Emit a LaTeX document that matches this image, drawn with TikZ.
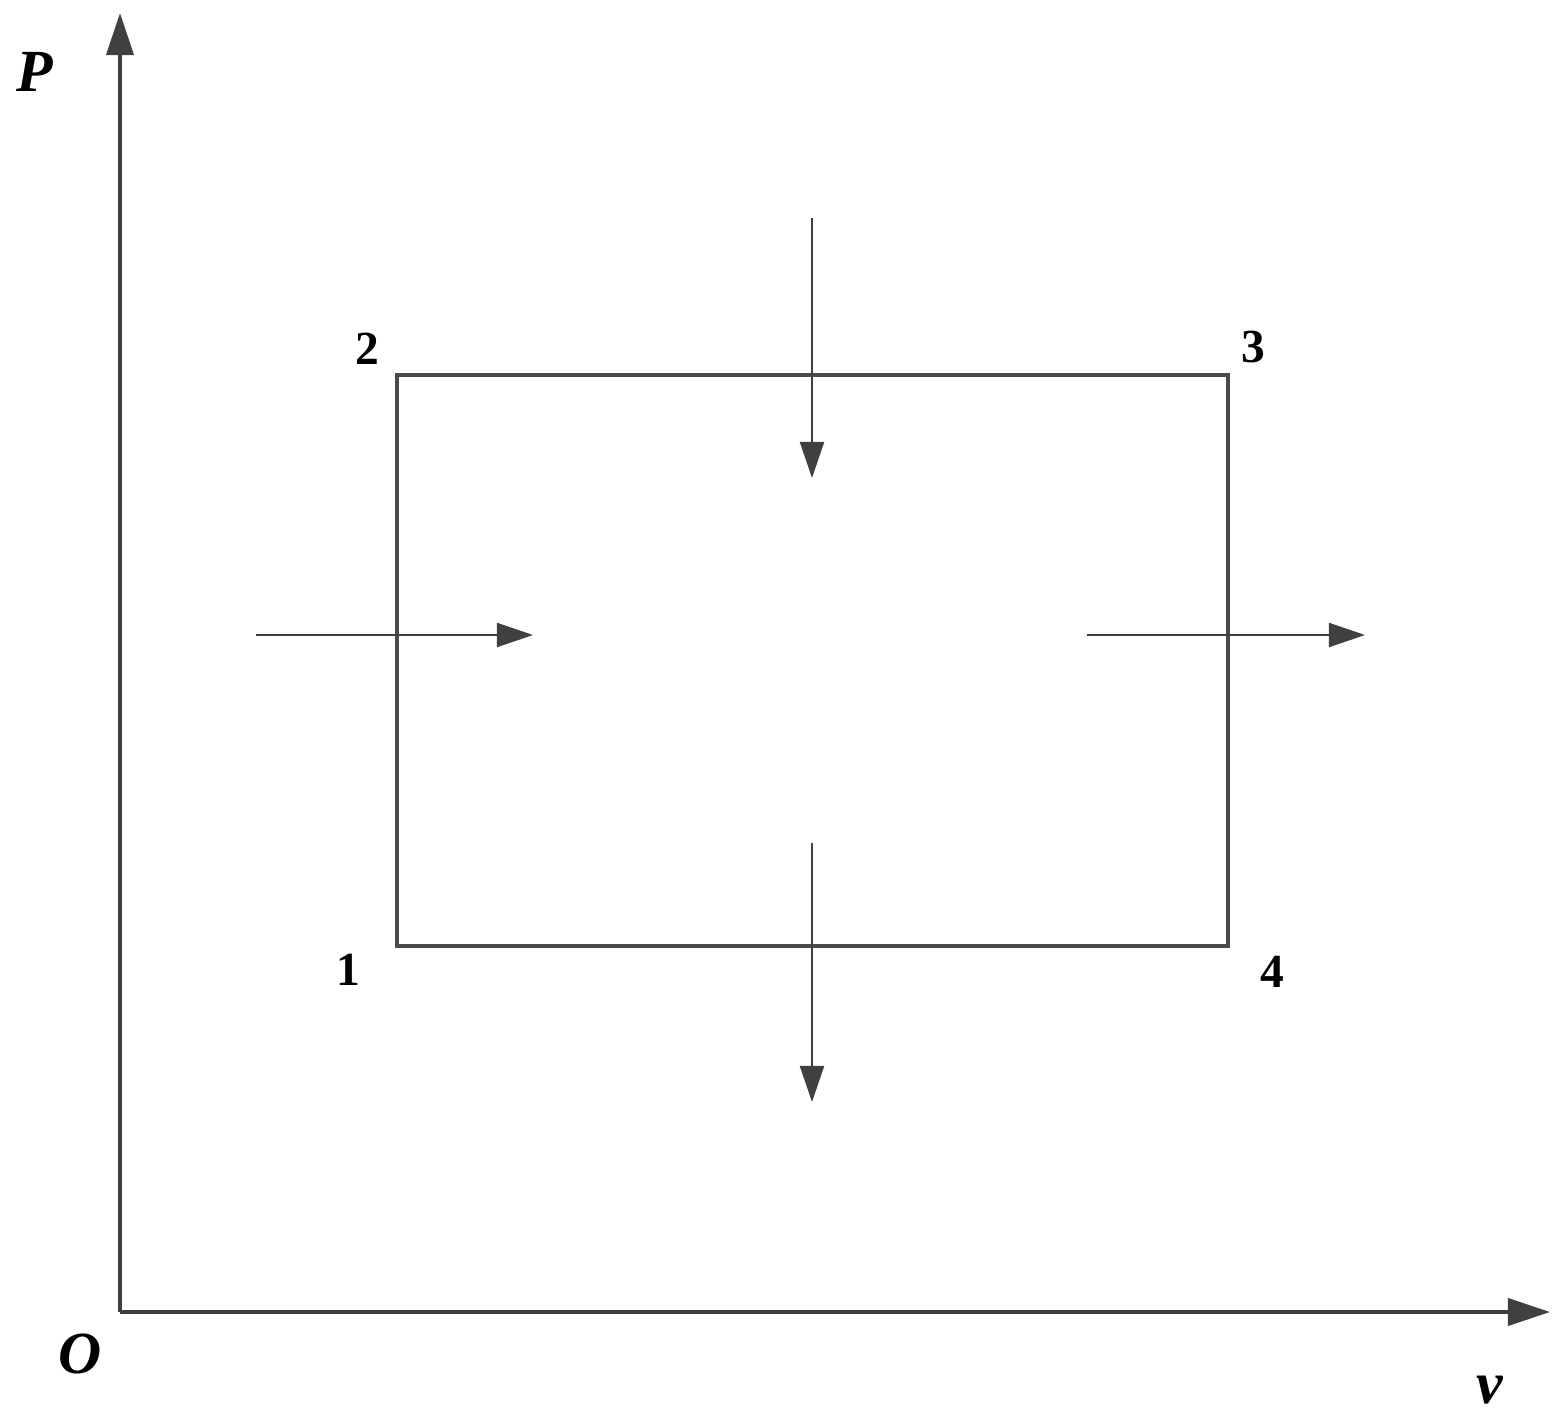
\documentclass[tikz,border=0pt]{standalone}
\usepackage{fontspec}
\setmainfont{Liberation Serif}
\usetikzlibrary{arrows.meta}
\definecolor{axisgray}{HTML}{404040}
\definecolor{boxgray}{HTML}{4A4A4A}
\tikzset{
  axisline/.style={draw=axisgray, line width=0.04cm, -{Triangle[length=0.42cm,width=0.27cm]}},
  flowarrow/.style={draw=axisgray, line width=0.02cm, -{Triangle[length=0.36cm,width=0.24cm]}},
  cyclebox/.style={draw=boxgray, line width=0.04cm},
  axislabel/.style={font=\fontsize{17}{17}\selectfont\bfseries\itshape, inner sep=0pt},
  ptlabel/.style={font=\fontsize{13.5}{13.5}\selectfont\bfseries, inner sep=0pt}
}
\begin{document}
\begin{tikzpicture}[x=0.01cm,y=-0.01cm]
\useasboundingbox (0,0) rectangle (1566,1424);
% axes
\coordinate (O) at (120,1312);
\coordinate (ytip) at (120,13);
\coordinate (xtip) at (1550,1312);
\draw[axisline] (O) -- (ytip);
\draw[axisline] (O) -- (xtip);
\node[axislabel] (lP) at (35,72) {P};
\node[axislabel] (lO) at (80,1354) {O};
\node[axislabel] (lv) at (1490,1390) {v};
% cycle
\coordinate (c1) at (397,946);
\coordinate (c2) at (397,375);
\coordinate (c3) at (1228,375);
\coordinate (c4) at (1228,946);
\draw[cyclebox] (c1) -- (c2) -- (c3) -- (c4) -- cycle;
\node[ptlabel] (n1) at (348,970) {1};
\node[ptlabel] (n2) at (367,349) {2};
\node[ptlabel] (n3) at (1253,347) {3};
\node[ptlabel] (n4) at (1272,972) {4};
% flow arrows
\coordinate (ta) at (812,218);
\coordinate (tb) at (812,478);
\coordinate (ba) at (812,843);
\coordinate (bb) at (812,1102);
\coordinate (la) at (256,635);
\coordinate (lb) at (533,635);
\coordinate (ra) at (1087,635);
\coordinate (rb) at (1365,635);
\draw[flowarrow] (ta) -- (tb);
\draw[flowarrow] (ba) -- (bb);
\draw[flowarrow] (la) -- (lb);
\draw[flowarrow] (ra) -- (rb);
\end{tikzpicture}
\end{document}
